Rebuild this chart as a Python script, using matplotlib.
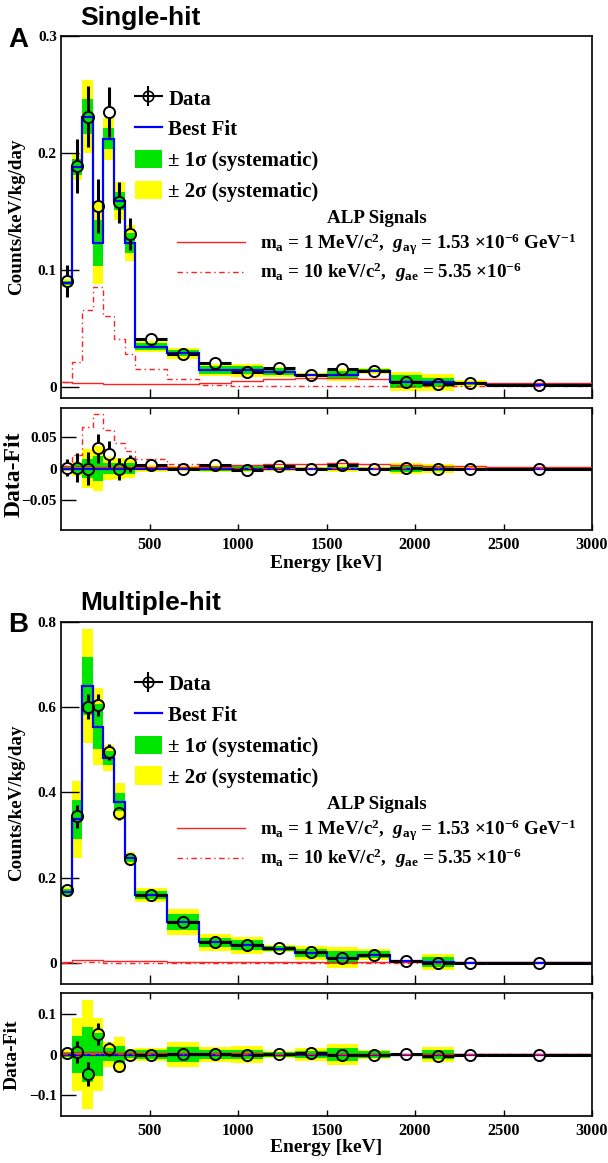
import numpy as np
import matplotlib
matplotlib.use('Agg')
import matplotlib.pyplot as plt
from matplotlib.lines import Line2D
from matplotlib.patches import Patch
from matplotlib.collections import LineCollection
from matplotlib.ticker import FuncFormatter

plt.rcParams['font.family'] = ['Liberation Serif', 'DejaVu Serif']
plt.rcParams['font.weight'] = 'bold'
plt.rcParams['mathtext.fontset'] = 'custom'
plt.rcParams['mathtext.rm'] = 'Liberation Serif:bold'
plt.rcParams['mathtext.it'] = 'Liberation Serif:italic'
plt.rcParams['mathtext.bf'] = 'Liberation Serif:bold'

# bin edges [keV]
edges = [5, 60, 120, 180, 240, 300, 360, 420, 600, 780, 960, 1140, 1320,
         1500, 1680, 1860, 2040, 2220, 2400, 3000]

# single-hit
data_a = [0.0906, 0.189, 0.231, 0.155, 0.235, 0.158, 0.131, 0.0407, 0.0282, 0.0202,
          0.0125, 0.0165, 0.0103, 0.0154, 0.0137, 0.0046, 0.0026, 0.0031, 0.0017]
err_a = [0.014, 0.023, 0.026, 0.023, 0.021, 0.0175, 0.0135, 0.004, 0.003, 0.003,
         0.0025, 0.0025, 0.002, 0.0025, 0.0025, 0.002, 0.002, 0.002, 0.001]
fit_a = [0.089, 0.188, 0.231, 0.123, 0.212, 0.159, 0.123, 0.0345, 0.0288, 0.0145,
         0.0142, 0.013, 0.0103, 0.0105, 0.014, 0.0045, 0.004, 0.0031, 0.002]
sig1_a = [0.002, 0.007, 0.015, 0.02, 0.009, 0.008, 0.0085, 0.0027, 0.0027, 0.0035,
          0.0035, 0.003, 0.001, 0.003, 0.0015, 0.0055, 0.004, 0.0015, 0.0005]
sig2_a = [0.0035, 0.011, 0.031, 0.035, 0.018, 0.016, 0.0155, 0.005, 0.0045, 0.0055,
          0.0055, 0.0045, 0.002, 0.005, 0.0025, 0.0083, 0.0075, 0.003, 0.001]
alp1_a = [0.004, 0.0037, 0.0033, 0.003, 0.0026, 0.0024, 0.0023, 0.0023, 0.0026, 0.0031,
          0.0054, 0.0068, 0.0077, 0.008, 0.0068, 0.005, 0.004, 0.0035, 0.003]
alp2_a = [0.0045, 0.021, 0.066, 0.0857, 0.0607, 0.0407, 0.028, 0.0151, 0.0066, 0.0017,
          0.0012, 0.001, 0.001, 0.0008, 0.0008, 0.0008, 0.0005, 0.0005, 0.0005]

# multiple-hit
data_b = [0.1706, 0.344, 0.601, 0.604, 0.4945, 0.3505, 0.2426, 0.159, 0.0963, 0.049,
          0.0415, 0.0353, 0.0259, 0.0126, 0.0196, 0.0055, 0.0, 0.0, 0.0]
err_b = [0.013, 0.027, 0.029, 0.026, 0.018, 0.015, 0.012, 0.005, 0.005, 0.004,
         0.004, 0.004, 0.004, 0.004, 0.004, 0.003, 0.003, 0.002, 0.001]
fit_b = [0.166, 0.337, 0.6495, 0.554, 0.481, 0.378, 0.245, 0.159, 0.096, 0.048,
         0.0415, 0.0337, 0.023, 0.0126, 0.0196, 0.005, 0.003, 0.0005, 0.0003]
sig1_b = [0.007, 0.046, 0.068, 0.053, 0.017, 0.021, 0.009, 0.01, 0.019, 0.011,
          0.012, 0.005, 0.009, 0.015, 0.008, 0.001, 0.012, 0.001, 0.0005]
sig2_b = [0.012, 0.09, 0.133, 0.09, 0.031, 0.043, 0.014, 0.016, 0.031, 0.019,
          0.02, 0.008, 0.016, 0.025, 0.012, 0.002, 0.019, 0.002, 0.001]
alp1_b = [0.003, 0.007, 0.007, 0.006, 0.005, 0.0045, 0.004, 0.0035, 0.003, 0.0025,
          0.0025, 0.002, 0.002, 0.002, 0.002, 0.002, 0.002, 0.002, 0.002]
alp2_b = [0.0005, 0.001, 0.0015, 0.0015, 0.001, 0.001, 0.001, 0.0008, 0.0005, 0.0004,
          0.0003, 0.0003, 0.0003, 0.0003, 0.0003, 0.0003, 0.0003, 0.0003, 0.0003]

xticks = [500, 1000, 1500, 2000, 2500, 3000]

YELLOW = '#ffff00'
GREEN = '#00e600'
BLUE = '#0000ff'
RED = '#ff2020'
DASHDOT = (0, (4, 2.5, 1, 2.5))

fig = plt.figure(figsize=(6.08, 11.63), dpi=100)


def fmt(v, p):
    if abs(v) < 1e-9:
        return '0'
    return ('%g' % v).replace('-', '\u2212')


def data_points(ax, x, y, xerr, yerr, r_px=5.5):
    # error bars are drawn with a gap where the open marker sits
    to_disp = ax.transData
    inv = to_disp.inverted()
    segs = []
    for xi, yi, exi, eyi in zip(x, y, xerr, yerr):
        cx, cy = to_disp.transform((xi, yi))
        _, ytop = to_disp.transform((xi, yi + eyi))
        _, ybot = to_disp.transform((xi, yi - eyi))
        xl, _ = to_disp.transform((xi - exi, yi))
        xr, _ = to_disp.transform((xi + exi, yi))
        pieces = []
        if ytop - cy > r_px:
            pieces.append(((cx, cy + r_px), (cx, ytop)))
            pieces.append(((cx, cy - r_px), (cx, ybot)))
        if cx - xl > r_px:
            pieces.append(((xl, cy), (cx - r_px, cy)))
            pieces.append(((cx + r_px, cy), (xr, cy)))
        for a, b in pieces:
            segs.append([inv.transform(a), inv.transform(b)])
    ax.add_collection(LineCollection(segs, colors='black', linewidths=2.2, zorder=6))
    ax.plot(x, y, 'o', ms=8, mfc='none', mec='black', mew=1.4, zorder=7)


def style_axis(ax, ylim, yticks, main, ytick_len):
    ax.set_xlim(0, 3000)
    ax.set_ylim(*ylim)
    ax.set_xticks(xticks)
    ax.set_yticks(yticks)
    ax.yaxis.set_major_formatter(FuncFormatter(fmt))
    for s in ax.spines.values():
        s.set_linewidth(1.2)
    ax.tick_params(axis='y', direction='in', length=ytick_len, width=1.0,
                   labelsize=11, pad=3)
    if main:
        ax.tick_params(axis='x', direction='in', length=6.5, width=1.0,
                       labelbottom=False)
    else:
        ax.tick_params(axis='x', direction='in', length=4.5, width=1.0, top=True,
                       labelsize=11.7, pad=5)


def panel(ax, axr, data, err, fit, s1, s2, alp1, alp2, ylim, yticks, rlim, rticks):
    data = np.array(data)
    err = np.array(err)
    fit = np.array(fit)
    s1 = np.array(s1)
    s2 = np.array(s2)
    e = np.array(edges, dtype=float)
    centers = 0.5 * (e[:-1] + e[1:])
    half = 0.5 * (e[1:] - e[:-1])

    style_axis(ax, ylim, yticks, True, 13)
    style_axis(axr, rlim, rticks, False, 11)

    # main panel
    ax.stairs(fit + s2, e, baseline=fit - s2, fill=True, color=YELLOW, lw=0, zorder=1)
    ax.stairs(fit + s1, e, baseline=fit - s1, fill=True, color=GREEN, lw=0, zorder=2)
    ax.stairs(alp1, e, baseline=None, color=RED, lw=1.0, zorder=3)
    ax.stairs(alp2, e, baseline=None, color=RED, lw=1.0, ls=DASHDOT, zorder=3)
    ax.stairs(fit, e, baseline=None, color=BLUE, lw=1.6, zorder=4)
    data_points(ax, centers, data, half, err)

    # residual panel
    zero = np.zeros_like(fit)
    axr.stairs(s2, e, baseline=-s2, fill=True, color=YELLOW, lw=0, zorder=1)
    axr.stairs(s1, e, baseline=-s1, fill=True, color=GREEN, lw=0, zorder=2)
    axr.axhline(0, color='black', lw=1.4, ls='--', zorder=3)
    axr.stairs(zero, e, baseline=None, color=BLUE, lw=1.6, zorder=4)
    axr.stairs(alp1, e, baseline=None, color=RED, lw=1.0, zorder=5)
    axr.stairs(alp2, e, baseline=None, color=RED, lw=1.0, ls=DASHDOT, zorder=5)
    data_points(axr, centers, data - fit, half, err)

    # legends
    h_data = (Line2D([], [], color='black', lw=1.5),
              Line2D([], [], color='black', marker='|', ms=14, mew=1.5, ls='none'),
              Line2D([], [], color='black', marker='o', ms=7.5, mfc='none', mew=1.2, ls='none'))
    h_fit = Line2D([], [], color=BLUE, lw=1.6)
    h_1s = Patch(facecolor=GREEN, edgecolor='none')
    h_2s = Patch(facecolor=YELLOW, edgecolor='none')
    leg1 = ax.legend([h_data, h_fit, h_1s, h_2s],
                     ['Data', 'Best Fit', '\u00b1 1\u03c3 (systematic)', '\u00b1 2\u03c3 (systematic)'],
                     loc='upper left', bbox_to_anchor=(0.139, 0.856), frameon=False,
                     borderpad=0, borderaxespad=0, handlelength=1.3, handleheight=1.0,
                     handletextpad=0.3, labelspacing=0.45,
                     prop={'family': 'Liberation Serif', 'weight': 'bold', 'size': 15})
    ax.add_artist(leg1)

    h_a1 = Line2D([], [], color=RED, lw=1.0)
    h_a2 = Line2D([], [], color=RED, lw=1.0, ls=DASHDOT)
    lab1 = (r'm$_\mathrm{a}$ = 1 MeV/c$^\mathrm{2}$,  $g_\mathrm{a\gamma}$ = 1.53 '
            r'$\times$10$^\mathrm{-6}$ GeV$^\mathrm{-1}$')
    lab2 = (r'm$_\mathrm{a}$ = 10 keV/c$^\mathrm{2}$,  $g_\mathrm{ae}$ = 5.35 '
            r'$\times$10$^\mathrm{-6}$')
    ax.legend([h_a1, h_a2], [lab1, lab2], title='ALP Signals',
              loc='upper left', bbox_to_anchor=(0.218, 0.519), frameon=False,
              borderpad=0, borderaxespad=0, handlelength=3.6,
              handletextpad=0.8, labelspacing=0.22,
              prop={'family': 'Liberation Serif', 'weight': 'bold', 'size': 13.7},
              title_fontproperties={'family': 'Liberation Serif',
                                    'weight': 'bold', 'size': 13.7})


ax_a = fig.add_axes([0.10033, 0.65778, 0.87336, 0.31127])
axr_a = fig.add_axes([0.10033, 0.54428, 0.87336, 0.10516])
ax_b = fig.add_axes([0.10033, 0.15365, 0.87336, 0.31179])
axr_b = fig.add_axes([0.10033, 0.04067, 0.87336, 0.10524])

panel(ax_a, axr_a, data_a, err_a, fit_a, sig1_a, sig2_a, alp1_a, alp2_a,
      (-0.0094, 0.3), [0, 0.1, 0.2, 0.3], (-0.097, 0.096), [-0.05, 0, 0.05])
panel(ax_b, axr_b, data_b, err_b, fit_b, sig1_b, sig2_b, alp1_b, alp2_b,
      (-0.05, 0.8), [0, 0.2, 0.4, 0.6, 0.8], (-0.15, 0.15), [-0.1, 0, 0.1])

# titles and axis labels
sans = {'family': 'Liberation Sans', 'weight': 'bold'}
fig.text(0.1316, 0.9785, 'Single-hit', fontsize=19, ha='left', va='baseline', fontdict=sans)
fig.text(0.0132, 0.9596, 'A', fontsize=20, ha='left', va='baseline', fontdict=sans)
fig.text(0.1316, 0.4755, 'Multiple-hit', fontsize=19, ha='left', va='baseline', fontdict=sans)
fig.text(0.0132, 0.4568, 'B', fontsize=20, ha='left', va='baseline', fontdict=sans)

for ax in (ax_a, ax_b):
    pos = ax.get_position()
    fig.text(0.027, pos.y0 + pos.height / 2, 'Counts/keV/kg/day', rotation=90,
             ha='center', va='center', fontsize=13.7)
fig.text(0.024, 0.5924, 'Data-Fit', rotation=90, ha='center', va='center', fontsize=17)
fig.text(0.0197, 0.0929, 'Data-Fit', rotation=90, ha='center', va='center', fontsize=14)
fig.text(0.537, 0.5159, 'Energy [keV]', ha='center', va='center', fontsize=14)
fig.text(0.537, 0.0129, 'Energy [keV]', ha='center', va='center', fontsize=14)

fig.savefig('out.png', dpi=100)
